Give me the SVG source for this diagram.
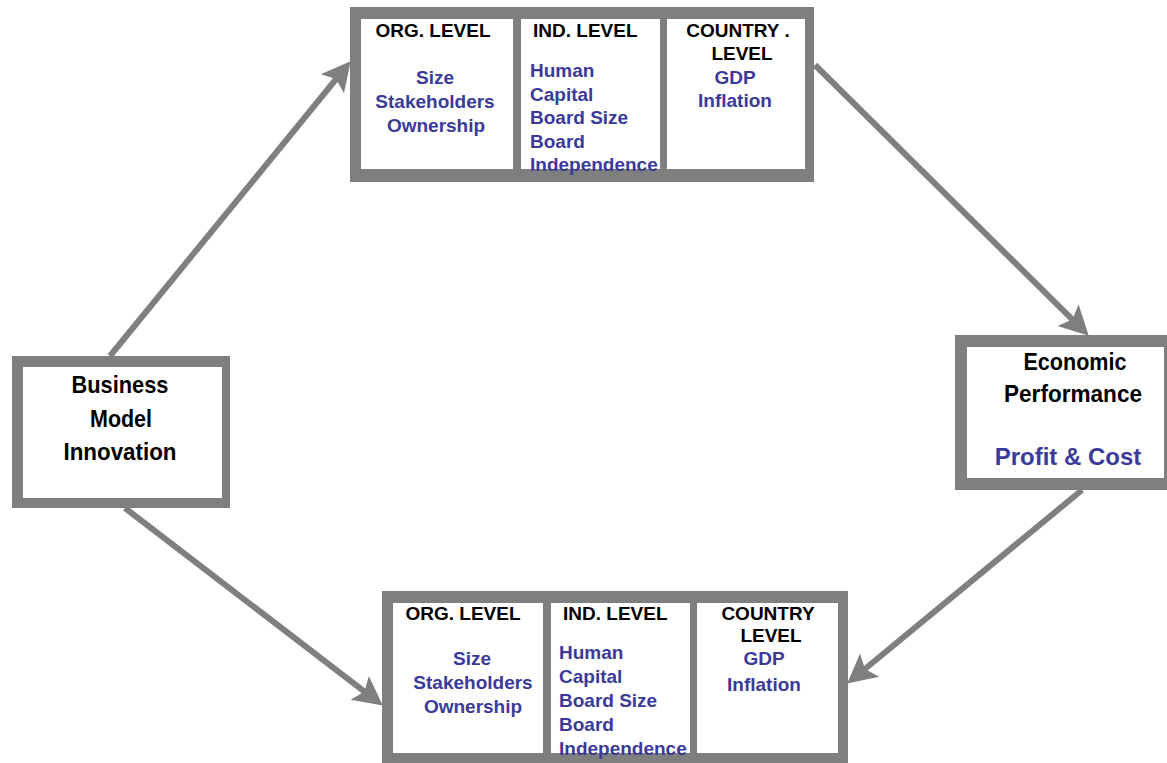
<svg xmlns="http://www.w3.org/2000/svg" width="1167" height="763" viewBox="0 0 1167 763">
<style>
.frame{fill:#7f7f7f}
.cell{fill:#fff}
.hd{font-family:"Liberation Sans",Arial,sans-serif;font-weight:bold;font-size:19px;fill:#000}
.bl{font-family:"Liberation Sans",Arial,sans-serif;font-weight:bold;font-size:19px;fill:#3a3a99}
.big{font-family:"Liberation Sans",Arial,sans-serif;font-weight:bold;font-size:24px;fill:#000}
.bigb{font-family:"Liberation Sans",Arial,sans-serif;font-weight:bold;font-size:24px;fill:#3a3a99}
.conn{stroke:#7f7f7f;stroke-width:6;fill:none}
</style>
<defs>
<marker id="ah" markerUnits="userSpaceOnUse" markerWidth="44" markerHeight="44" viewBox="-12 -22 44 44" refX="0" refY="0" orient="auto">
<path d="M21,0 L-8,-15 L-2,0 L-8,15 Z" fill="#7f7f7f"/>
</marker>
</defs>
<g id="connectors">
<line class="conn" x1="110" y1="356" x2="337.4" y2="77.5" marker-end="url(#ah)"/>
<line class="conn" x1="815" y1="65" x2="1073.8" y2="320.9" marker-end="url(#ah)"/>
<line class="conn" x1="1082" y1="490" x2="863.4" y2="670.2" marker-end="url(#ah)"/>
<line class="conn" x1="125" y1="508" x2="366.1" y2="692.8" marker-end="url(#ah)"/>
</g>
<g id="top-box">
<rect class="frame" x="350" y="7" width="464" height="175"/>
<rect class="cell" x="361" y="19" width="152" height="150"/>
<rect class="cell" x="521" y="19" width="139" height="150"/>
<rect class="cell" x="667" y="19" width="138" height="150"/>
<text class="hd" x="433" y="37" text-anchor="middle">ORG. LEVEL</text>
<text class="bl" x="435" y="84" text-anchor="middle">Size</text>
<text class="bl" x="435" y="108" text-anchor="middle">Stakeholders</text>
<text class="bl" x="436" y="132" text-anchor="middle">Ownership</text>
<text class="hd" x="533" y="37">IND. LEVEL</text>
<text class="bl" x="530" y="77">Human</text>
<text class="bl" x="530" y="101">Capital</text>
<text class="bl" x="530" y="124">Board Size</text>
<text class="bl" x="530" y="148">Board</text>
<text class="bl" x="530" y="171">Independence</text>
<text class="hd" x="738" y="37" text-anchor="middle">COUNTRY .</text>
<text class="hd" x="742" y="60" text-anchor="middle">LEVEL</text>
<text class="bl" x="735" y="84" text-anchor="middle">GDP</text>
<text class="bl" x="735" y="107" text-anchor="middle">Inflation</text>
</g>
<g id="bottom-box">
<rect class="frame" x="382" y="591" width="466" height="172"/>
<rect class="cell" x="393" y="603" width="150" height="150"/>
<rect class="cell" x="551" y="603" width="139" height="150"/>
<rect class="cell" x="697" y="603" width="141" height="150"/>
<text class="hd" x="463" y="620" text-anchor="middle">ORG. LEVEL</text>
<text class="bl" x="472" y="665" text-anchor="middle">Size</text>
<text class="bl" x="473" y="689" text-anchor="middle">Stakeholders</text>
<text class="bl" x="473" y="713" text-anchor="middle">Ownership</text>
<text class="hd" x="563" y="620">IND. LEVEL</text>
<text class="bl" x="559" y="659">Human</text>
<text class="bl" x="559" y="683">Capital</text>
<text class="bl" x="559" y="707">Board Size</text>
<text class="bl" x="559" y="731">Board</text>
<text class="bl" x="559" y="755">Independence</text>
<text class="hd" x="768" y="620" text-anchor="middle">COUNTRY</text>
<text class="hd" x="771" y="642" text-anchor="middle">LEVEL</text>
<text class="bl" x="764" y="665" text-anchor="middle">GDP</text>
<text class="bl" x="764" y="691" text-anchor="middle">Inflation</text>
</g>
<g id="bmi-box">
<rect class="frame" x="12" y="356" width="218" height="152"/>
<rect class="cell" x="23" y="367" width="199" height="131"/>
<text class="big" x="120" y="393" text-anchor="middle" textLength="97" lengthAdjust="spacingAndGlyphs">Business</text>
<text class="big" x="121" y="427" text-anchor="middle" textLength="62" lengthAdjust="spacingAndGlyphs">Model</text>
<text class="big" x="120" y="460" text-anchor="middle" textLength="113" lengthAdjust="spacingAndGlyphs">Innovation</text>
</g>
<g id="econ-box">
<rect class="frame" x="955" y="335" width="212" height="155"/>
<rect class="cell" x="967" y="347" width="197" height="131"/>
<text class="big" x="1075" y="370" text-anchor="middle" textLength="103" lengthAdjust="spacingAndGlyphs">Economic</text>
<text class="big" x="1073" y="402" text-anchor="middle" textLength="138" lengthAdjust="spacingAndGlyphs">Performance</text>
<text class="bigb" x="1068" y="465" text-anchor="middle">Profit &amp; Cost</text>
</g>
</svg>
